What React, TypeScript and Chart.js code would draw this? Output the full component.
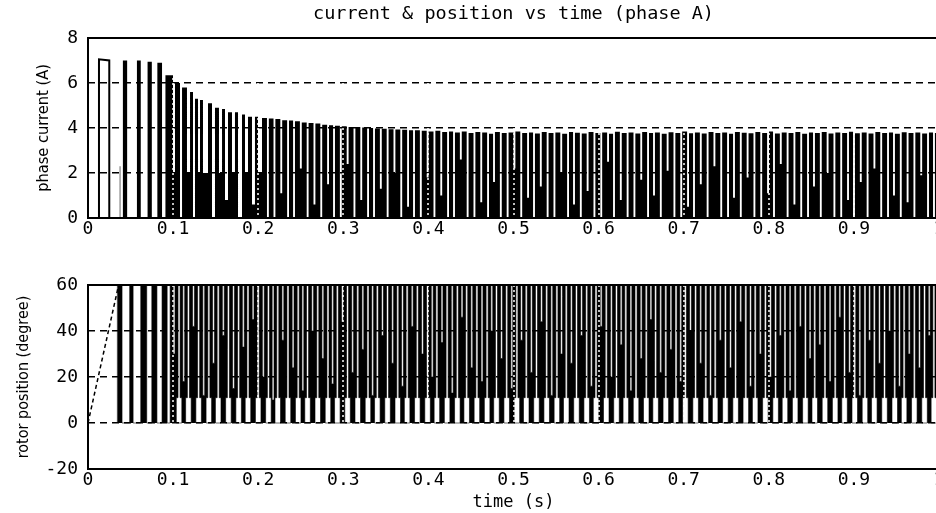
import React, { useEffect, useRef } from 'react';
import { Chart, registerables } from 'chart.js';

Chart.register(...registerables);

// ---------- text ----------
const chartTitle = 'current & position vs time (phase A)';
const currentAxisTitle = 'phase current (A)';
const positionAxisTitle = 'rotor position (degree)';
const timeAxisTitle = 'time (s)';

// ---------- ticks ----------
const timeTickValues = [0, 0.1, 0.2, 0.3, 0.4, 0.5, 0.6, 0.7, 0.8, 0.9, 1];
const timeTickLabels = ['0', '0.1', '0.2', '0.3', '0.4', '0.5', '0.6', '0.7', '0.8', '0.9', '1'];
const currentTickValues = [0, 2, 4, 6, 8];
const positionTickValues = [-20, 0, 20, 40, 60];

// ---------- phase current (A) ----------
// start-up pulse (drawn as an outline)
const startPulseTime = [0.0129, 0.0129, 0.025, 0.025];
const startPulseAmps = [0, 7.05, 7.0, 0];

// early, separated pulses: on time, off time, peak, level left after the pulse
const currentBarOn = [0.037, 0.041, 0.0575, 0.07, 0.0815, 0.091, 0.1022, 0.1105, 0.1199, 0.1257, 0.1316, 0.141, 0.1492, 0.1575, 0.1645, 0.1727, 0.181, 0.188, 0.1962, 0.2045];
const currentBarOff = [0.038, 0.046, 0.062, 0.075, 0.087, 0.0999, 0.1081, 0.1163, 0.1234, 0.1293, 0.1351, 0.1457, 0.1539, 0.161, 0.1692, 0.1763, 0.1845, 0.1927, 0.1998, 0.2103];
const currentBarPeak = [2.3, 7.0, 7.0, 6.95, 6.9, 6.35, 6.0, 5.8, 5.6, 5.3, 5.25, 5.1, 4.9, 4.85, 4.7, 4.7, 4.6, 4.5, 4.5, 4.45];
const currentBarFloor = [0, 0, 0, 0, 0, 2.0, 0, 2.0, 0, 2.0, 2.0, 0, 2.0, 0.8, 2.0, 0, 2.0, 0.6, 2.0, 0];

// steady chopping: times where the current drops out, the level it drops to, and pulse peaks
const CURRENT_GAP = 0.0022;
const currentGapTimes = [
  0.218, 0.226, 0.234, 0.241, 0.249, 0.257, 0.265, 0.273, 0.281, 0.288,
  0.296, 0.304, 0.312, 0.320, 0.328, 0.335, 0.343, 0.351, 0.359, 0.367,
  0.375, 0.382, 0.390, 0.398, 0.406, 0.414, 0.422, 0.429, 0.437, 0.445,
  0.453, 0.461, 0.469, 0.476, 0.484, 0.492, 0.500, 0.508, 0.516, 0.523,
  0.531, 0.539, 0.547, 0.555, 0.563, 0.570, 0.578, 0.586, 0.594, 0.602,
  0.610, 0.617, 0.625, 0.633, 0.641, 0.649, 0.657, 0.664, 0.672, 0.680,
  0.688, 0.696, 0.704, 0.711, 0.719, 0.727, 0.735, 0.743, 0.751, 0.758,
  0.766, 0.774, 0.782, 0.790, 0.798, 0.805, 0.813, 0.821, 0.829, 0.837,
  0.845, 0.852, 0.860, 0.868, 0.876, 0.884, 0.892, 0.899, 0.907, 0.915,
  0.923, 0.931, 0.939, 0.946, 0.954, 0.962, 0.970, 0.978, 0.986, 0.993,
];
const currentGapFloor = [
  0, 1.1, 0, 0, 2.2, 0, 0.6, 0, 1.5, 0,
  0, 2.4, 0, 0.8, 0, 0, 1.3, 0, 2.0, 0,
  0.5, 0, 0, 1.8, 0, 1.0, 0, 0, 2.6, 0,
  0, 0.7, 0, 1.6, 0, 0, 2.2, 0, 0.9, 0,
  1.4, 0, 0, 2.0, 0, 0.6, 0, 1.2, 0, 0,
  2.5, 0, 0.8, 0, 0, 1.7, 0, 1.0, 0, 2.1,
  0, 0, 0.5, 0, 1.5, 0, 2.3, 0, 0, 0.9,
  0, 1.8, 0, 0, 1.1, 0, 2.4, 0, 0.6, 0,
  0, 1.4, 0, 2.0, 0, 0, 0.8, 0, 1.6, 0,
  2.2, 0, 0, 1.0, 0, 0.7, 0, 1.9, 0, 0,
];
const currentPeaks = [
  4.42, 4.40, 4.35, 4.33, 4.30, 4.25, 4.22, 4.20, 4.15, 4.12,
  4.10, 4.08, 4.05, 4.05, 4.02, 4.00, 3.98, 3.97, 3.95, 3.93,
  3.92, 3.90, 3.90, 3.88, 3.85, 3.88, 3.82, 3.85, 3.80, 3.84,
  3.78, 3.82, 3.80, 3.75, 3.82, 3.78, 3.80, 3.85, 3.78, 3.80,
  3.76, 3.82, 3.78, 3.80, 3.74, 3.82, 3.79, 3.76, 3.82, 3.78,
  3.80, 3.75, 3.83, 3.78, 3.80, 3.76, 3.82, 3.78, 3.80, 3.74,
  3.81, 3.78, 3.85, 3.77, 3.80, 3.76, 3.82, 3.78, 3.80, 3.75,
  3.82, 3.79, 3.77, 3.82, 3.78, 3.84, 3.76, 3.80, 3.78, 3.82,
  3.75, 3.80, 3.78, 3.82, 3.76, 3.80, 3.78, 3.83, 3.77, 3.80,
  3.76, 3.82, 3.78, 3.80, 3.75, 3.81, 3.78, 3.80, 3.76, 3.80,
  3.78,
];

// ---------- rotor position (degree) ----------
const positionRampTime = [0, 0.036];
const positionRampDeg = [0, 60];
const positionStrokeDeg = 60;
const positionBarOn = [0.0345, 0.049, 0.062, 0.075, 0.087];
const positionBarOff = [0.040, 0.053, 0.069, 0.081, 0.093];
const positionDenseStart = 0.0965;
const positionGapTimes = [
  0.107, 0.118, 0.130, 0.142, 0.153, 0.165, 0.177, 0.188, 0.200, 0.212,
  0.223, 0.235, 0.247, 0.258, 0.270, 0.282, 0.293, 0.305, 0.317, 0.329,
  0.340, 0.352, 0.364, 0.375, 0.387, 0.399, 0.410, 0.422, 0.434, 0.445,
  0.457, 0.469, 0.480, 0.492, 0.504, 0.515, 0.527, 0.539, 0.551, 0.562,
  0.574, 0.586, 0.597, 0.609, 0.621, 0.632, 0.644, 0.656, 0.667, 0.679,
  0.691, 0.702, 0.714, 0.726, 0.737, 0.749, 0.761, 0.773, 0.784, 0.796,
  0.808, 0.819, 0.831, 0.843, 0.854, 0.866, 0.878, 0.889, 0.901, 0.913,
  0.924, 0.936, 0.948, 0.959, 0.971, 0.983, 0.994,
];
const positionNotchFloor = [
  30, 18, 42, 12, 26, 38, 15, 33, 45, 20,
  10, 36, 24, 14, 40, 28, 17, 44, 22, 32,
  12, 38, 26, 16, 42, 30, 20, 35, 13, 46,
  24, 18, 40, 28, 15, 36, 22, 44, 12, 30,
  26, 38, 16, 42, 20, 34, 14, 28, 45, 22,
  32, 18, 40, 26, 12, 36, 24, 44, 16, 30,
  20, 38, 14, 42, 28, 34, 18, 46, 22, 12,
  36, 26, 40, 16, 30, 24, 38,
];
const positionCupDeg = 11;
const POS_STRIPE = 0.0024;
const POS_CUP = 0.0065;
const POS_NOTCH = 0.0022;

// ---------- builders ----------
type P = { x: number; y: number };

function currentPoints(): P[] {
  const on = currentBarOn.slice();
  const off = currentBarOff.slice();
  const peak = currentBarPeak.slice();
  const floor = currentBarFloor.slice();
  let prev = currentBarOff[currentBarOff.length - 1];
  for (let k = 0; k < currentPeaks.length; k++) {
    const end = k < currentGapTimes.length ? currentGapTimes[k] : 1;
    on.push(prev + CURRENT_GAP);
    off.push(end);
    peak.push(currentPeaks[k]);
    floor.push(k < currentGapFloor.length ? currentGapFloor[k] : 0);
    prev = end;
  }
  const pts: P[] = [{ x: on[0], y: 0 }];
  let level = 0;
  for (let i = 0; i < on.length; i++) {
    pts.push({ x: on[i], y: level }, { x: on[i], y: peak[i] }, { x: off[i], y: peak[i] }, { x: off[i], y: floor[i] });
    level = floor[i];
  }
  return pts;
}

function positionPoints(): P[] {
  const top = positionStrokeDeg;
  const pts: P[] = [];
  for (let i = 0; i < positionBarOn.length; i++) {
    pts.push({ x: positionBarOn[i], y: 0 }, { x: positionBarOn[i], y: top }, { x: positionBarOff[i], y: top }, { x: positionBarOff[i], y: 0 });
  }
  pts.push({ x: positionDenseStart, y: 0 }, { x: positionDenseStart, y: top });
  let edge = positionDenseStart;
  positionGapTimes.forEach((g, k) => {
    const left = g - POS_STRIPE / 2;
    const mid = (edge + left) / 2;
    const f = positionNotchFloor[k];
    pts.push(
      { x: mid - POS_NOTCH / 2, y: top }, { x: mid - POS_NOTCH / 2, y: f },
      { x: mid + POS_NOTCH / 2, y: f }, { x: mid + POS_NOTCH / 2, y: top },
    );
    pts.push(
      { x: left, y: top }, { x: left, y: positionCupDeg },
      { x: g - POS_CUP / 2, y: positionCupDeg }, { x: g - POS_CUP / 2, y: 0 },
      { x: g + POS_CUP / 2, y: 0 }, { x: g + POS_CUP / 2, y: positionCupDeg },
      { x: g + POS_STRIPE / 2, y: positionCupDeg }, { x: g + POS_STRIPE / 2, y: top },
    );
    edge = g + POS_STRIPE / 2;
  });
  pts.push({ x: 1, y: top });
  return pts;
}

// ---------- styling ----------
const MONO = "'DejaVu Sans Mono', 'Liberation Mono', monospace";
const NARROW = "'Liberation Sans Narrow', 'Arial Narrow', 'DejaVu Sans Condensed', sans-serif";
const CANVAS_W = 1000;
const PLOT_RIGHT = 939;

const vGridPlugin = {
  id: 'vGridXor',
  afterDatasetsDraw(chart: any) {
    const { ctx, chartArea: a, scales } = chart;
    const x = scales.x;
    ctx.save();
    ctx.globalCompositeOperation = 'difference';
    ctx.strokeStyle = '#fff';
    ctx.lineWidth = 1.5;
    ctx.setLineDash([2, 3]);
    for (const v of timeTickValues) {
      if (v <= x.min || v >= x.max) continue;
      const px = Math.round(x.getPixelForValue(v));
      ctx.beginPath();
      ctx.moveTo(px, a.top);
      ctx.lineTo(px, a.bottom);
      ctx.stroke();
    }
    ctx.restore();
  },
};

const boxPlugin = {
  id: 'axesBox',
  afterDraw(chart: any) {
    const { ctx, chartArea: a } = chart;
    ctx.save();
    ctx.strokeStyle = '#000';
    ctx.lineWidth = 2;
    ctx.setLineDash([]);
    ctx.strokeRect(a.left, a.top, a.right - a.left, a.bottom - a.top);
    ctx.restore();
  },
};

function xScale(height: number, withTitle: boolean) {
  return {
    type: 'linear',
    min: 0,
    max: 1,
    afterBuildTicks: (s: any) => { s.ticks = timeTickValues.map((value) => ({ value })); },
    afterFit: (s: any) => { s.height = height; },
    grid: { display: false, drawTicks: false },
    border: { display: false },
    ticks: {
      color: '#000',
      padding: 1,
      maxRotation: 0,
      autoSkip: false,
      font: { family: MONO, size: 18 },
      callback: (v: number) => {
        const i = timeTickValues.indexOf(v);
        return i >= 0 ? timeTickLabels[i] : '';
      },
    },
    title: {
      display: withTitle,
      text: timeAxisTitle,
      color: '#000',
      font: { family: MONO, size: 17 },
      padding: { top: 0, bottom: 0 },
    },
  };
}

function yScale(min: number, max: number, values: number[], title: string, titleCenter: number, size: number) {
  return {
    min,
    max,
    afterBuildTicks: (s: any) => { s.ticks = values.map((value) => ({ value })); },
    afterFit: (s: any) => { s.width = 88; },
    grid: { color: '#000', lineWidth: 1.5, drawTicks: false },
    border: { display: false, dash: [7, 5] },
    ticks: { color: '#000', padding: 10, font: { family: MONO, size: 18 } },
    title: {
      display: true,
      text: title,
      color: '#000',
      font: { family: NARROW, size },
      padding: { top: titleCenter - (size * 1.2) / 2, bottom: 0 },
    },
  };
}

function topConfig(): any {
  const startPulse = startPulseTime.map((t, i) => ({ x: t, y: startPulseAmps[i] }));
  return {
    type: 'line',
    data: {
      datasets: [
        {
          data: currentPoints(),
          borderColor: '#000',
          backgroundColor: '#000',
          borderWidth: 0,
          borderDash: [1000, 0],
          fill: 'origin',
          pointRadius: 0,
          tension: 0,
        },
        {
          data: startPulse,
          borderColor: '#000',
          borderWidth: 2,
          borderDash: [1000, 0],
          fill: false,
          pointRadius: 0,
          tension: 0,
        },
      ],
    },
    options: {
      responsive: false,
      animation: false,
      events: [],
      layout: { padding: { left: 0, right: CANVAS_W - PLOT_RIGHT, top: 0, bottom: 0 } },
      plugins: {
        legend: { display: false },
        tooltip: { enabled: false },
        title: {
          display: true,
          text: chartTitle,
          color: '#000',
          fullSize: false,
          font: { family: MONO, size: 18.5, weight: 'normal' },
          padding: { top: 3, bottom: 12.8 },
        },
      },
      scales: {
        x: xScale(32, false),
        y: yScale(0, 8, currentTickValues, currentAxisTitle, 44, 16.3),
      },
    },
    plugins: [vGridPlugin, boxPlugin],
  };
}

function bottomConfig(): any {
  const ramp = positionRampTime.map((t, i) => ({ x: t, y: positionRampDeg[i] }));
  return {
    type: 'line',
    data: {
      datasets: [
        {
          data: positionPoints(),
          borderColor: '#000',
          backgroundColor: '#000',
          borderWidth: 0.6,
          borderDash: [1000, 0],
          fill: 'origin',
          pointRadius: 0,
          tension: 0,
        },
        {
          data: ramp,
          borderColor: '#000',
          borderWidth: 1.5,
          borderDash: [4, 3],
          fill: false,
          pointRadius: 0,
          tension: 0,
        },
      ],
    },
    options: {
      responsive: false,
      animation: false,
      events: [],
      layout: { padding: { left: 0, right: CANVAS_W - PLOT_RIGHT, top: 35, bottom: 0 } },
      plugins: {
        legend: { display: false },
        tooltip: { enabled: false },
        title: { display: false },
      },
      scales: {
        x: xScale(44, true),
        y: yScale(-20, 60, positionTickValues, positionAxisTitle, 24, 16),
      },
    },
    plugins: [vGridPlugin, boxPlugin],
  };
}

export default function App() {
  const topRef = useRef<HTMLCanvasElement>(null);
  const bottomRef = useRef<HTMLCanvasElement>(null);

  useEffect(() => {
    Chart.defaults.color = '#000';
    const c1 = new Chart(topRef.current as HTMLCanvasElement, topConfig());
    const c2 = new Chart(bottomRef.current as HTMLCanvasElement, bottomConfig());
    return () => {
      c1.destroy();
      c2.destroy();
    };
  }, []);

  return (
    <div
      style={{
        position: 'fixed',
        left: 0,
        top: 0,
        width: 936,
        height: 513,
        overflow: 'hidden',
        background: '#fff',
      }}
    >
      <canvas
        ref={topRef}
        width={CANVAS_W}
        height={250}
        style={{ position: 'absolute', left: 0, top: 0, width: CANVAS_W, height: 250 }}
      />
      <canvas
        ref={bottomRef}
        width={CANVAS_W}
        height={263}
        style={{ position: 'absolute', left: 0, top: 250, width: CANVAS_W, height: 263 }}
      />
    </div>
  );
}
